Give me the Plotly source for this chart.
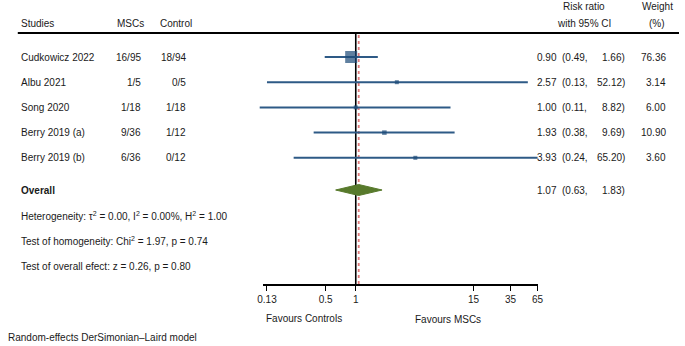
import math
import plotly.graph_objects as go

# ---------------- data ----------------
studies = ["Cudkowicz 2022", "Albu 2021", "Song 2020", "Berry 2019 (a)", "Berry 2019 (b)"]
msc_events = ["16/95", "1/5", "1/18", "9/36", "6/36"]
control_events = ["18/94", "0/5", "1/18", "1/12", "0/12"]
risk_ratio = [0.90, 2.57, 1.00, 1.93, 3.93]
ci_low = [0.49, 0.13, 0.11, 0.38, 0.24]
ci_high = [1.66, 52.12, 8.82, 9.69, 65.20]
weights = [76.36, 3.14, 6.00, 10.90, 3.60]
overall_rr = 1.07
overall_low = 0.63
overall_high = 1.83
tick_vals = [0.13, 0.5, 1, 15, 35, 65]
tick_text = ["0.13", "0.5", "1", "15", "35", "65"]

# ---------------- layout helpers ----------------
W, H = 685, 346
FONT = "Liberation Sans, Arial, sans-serif"
FS = 10
TXT = "#1a1a1a"
PPD = 102.0        # pixels per decade
X1_PX = 356.0      # pixel of RR = 1
ROW0_PX = 57.0     # pixel of first row
ROW_STEP = 25.2
AXIS_PX = 284.0
PAD = 2            # annotation box padding

def px_x(p):
    return p / W

def px_y(p):
    return 1 - p / H

def row_of_px(p):
    return (p - ROW0_PX) / ROW_STEP

xr = [-X1_PX / PPD, (W - X1_PX) / PPD]
x2_left, x2_right = 262.0, 541.0
x2r = [(x2_left - X1_PX) / PPD, (x2_right - X1_PX) / PPD]

n = len(studies)
rows = list(range(n))
overall_row = row_of_px(190)

fig = go.Figure()

# invisible trace on x2 so the scale axis renders
fig.add_trace(go.Scatter(x=[1], y=[overall_row], mode="markers", marker=dict(opacity=0),
                         showlegend=False, hoverinfo="skip", xaxis="x2", yaxis="y"))

# CI lines
cx, cy = [], []
for i in rows:
    cx += [ci_low[i], ci_high[i], None]
    cy += [i, i, None]
fig.add_trace(go.Scatter(x=cx, y=cy, mode="lines", line=dict(color="#2e5a86", width=2),
                         hoverinfo="skip", showlegend=False, xaxis="x", yaxis="y"))

# squares
sizes = [max(4.0, 12.0 * math.sqrt(w / max(weights))) for w in weights]
fig.add_trace(go.Scatter(x=risk_ratio, y=rows, mode="markers",
                         marker=dict(symbol="square", size=sizes, color="#1d4a78",
                                     line=dict(width=0)),
                         showlegend=False, xaxis="x", yaxis="y"))

# overall diamond
hgt = 5.5 / ROW_STEP
fig.add_trace(go.Scatter(
    x=[overall_low, overall_rr, overall_high, overall_rr, overall_low],
    y=[overall_row, overall_row - hgt, overall_row, overall_row + hgt, overall_row],
    mode="lines", fill="toself", fillcolor="#587a2c", line=dict(color="#587a2c", width=1),
    showlegend=False, xaxis="x", yaxis="y"))

shapes = []
# top rule
shapes.append(dict(type="line", xref="paper", yref="paper", x0=px_x(12), x1=1,
                   y0=px_y(33), y1=px_y(33), line=dict(color="black", width=2)))
# null line
shapes.append(dict(type="line", xref="x", yref="paper", x0=1, x1=1,
                   y0=px_y(AXIS_PX), y1=px_y(33), line=dict(color="black", width=1.6), layer="below"))
# overall effect line
shapes.append(dict(type="line", xref="x", yref="paper", x0=overall_rr, x1=overall_rr,
                   y0=px_y(AXIS_PX), y1=px_y(35), line=dict(color="#e07a7a", width=1.8, dash="dot"),
                   layer="below"))

ann = []
def add(text, x, y, xanchor="left", yref="paper", bold=False, size=FS):
    if xanchor == "left":
        x -= PAD
    elif xanchor == "right":
        x += PAD
    ann.append(dict(text=("<b>%s</b>" % text) if bold else text, x=px_x(x), y=y, xref="paper",
                    yref=yref, xanchor=xanchor, yanchor="middle", showarrow=False,
                    font=dict(family=FONT, size=size, color=TXT)))

# headers
add("Studies", 15, px_y(23))
add("MSCs", 141, px_y(23), "right")
add("Control", 189, px_y(23), "right")
add("Risk ratio", 588, px_y(6), "center")
add("with 95% CI", 588, px_y(24), "center")
add("Weight", 663, px_y(6), "center")
add("(%)", 663, px_y(24), "center")

for i in rows:
    add(studies[i], 15, i, yref="y")
    add(msc_events[i], 137, i, "right", yref="y")
    add(control_events[i], 183, i, "right", yref="y")
    add("%.2f" % risk_ratio[i], 561, i, "right", yref="y")
    add("(%.2f," % ci_low[i], 566, i, "left", yref="y")
    add("%.2f)" % ci_high[i], 630, i, "right", yref="y")
    add("%.2f" % weights[i], 672, i, "right", yref="y")

add("Overall", 15, overall_row, yref="y", bold=True)
add("%.2f" % overall_rr, 561, overall_row, "right", yref="y")
add("(%.2f," % overall_low, 566, overall_row, "left", yref="y")
add("%.2f)" % overall_high, 630, overall_row, "right", yref="y")

add("Heterogeneity: τ<sup>2</sup> = 0.00, I<sup>2</sup> = 0.00%, H<sup>2</sup> = 1.00",
    15, row_of_px(216), yref="y")
add("Test of homogeneity: Chi<sup>2</sup> = 1.97, p = 0.74", 15, row_of_px(241), yref="y")
add("Test of overall efect: z = 0.26, p = 0.80", 15, row_of_px(266), yref="y")

add("Favours Controls", 303, px_y(318), "center")
add("Favours MSCs", 450, px_y(319), "center")
add("Random-effects DerSimonian–Laird model", 1.5, px_y(337), "left")

fig.update_layout(
    width=W, height=H, margin=dict(l=0, r=0, t=0, b=0),
    paper_bgcolor="white", plot_bgcolor="rgba(0,0,0,0)",
    showlegend=False,
    xaxis=dict(type="log", range=xr, domain=[0, 1], visible=False, fixedrange=True),
    xaxis2=dict(type="log", range=x2r, domain=[px_x(x2_left), px_x(x2_right)], anchor="y",
                showline=True, linecolor="black", linewidth=1.5,
                ticks="outside", ticklen=5, tickwidth=1.2, tickcolor="black",
                tickvals=tick_vals, ticktext=tick_text, showgrid=False, zeroline=False,
                fixedrange=True, tickfont=dict(family=FONT, size=FS, color=TXT)),
    yaxis=dict(range=[row_of_px(AXIS_PX), row_of_px(0)], domain=[px_y(AXIS_PX), 1],
               visible=False, fixedrange=True),
    shapes=shapes, annotations=ann,
)

fig.write_html("out.html")
